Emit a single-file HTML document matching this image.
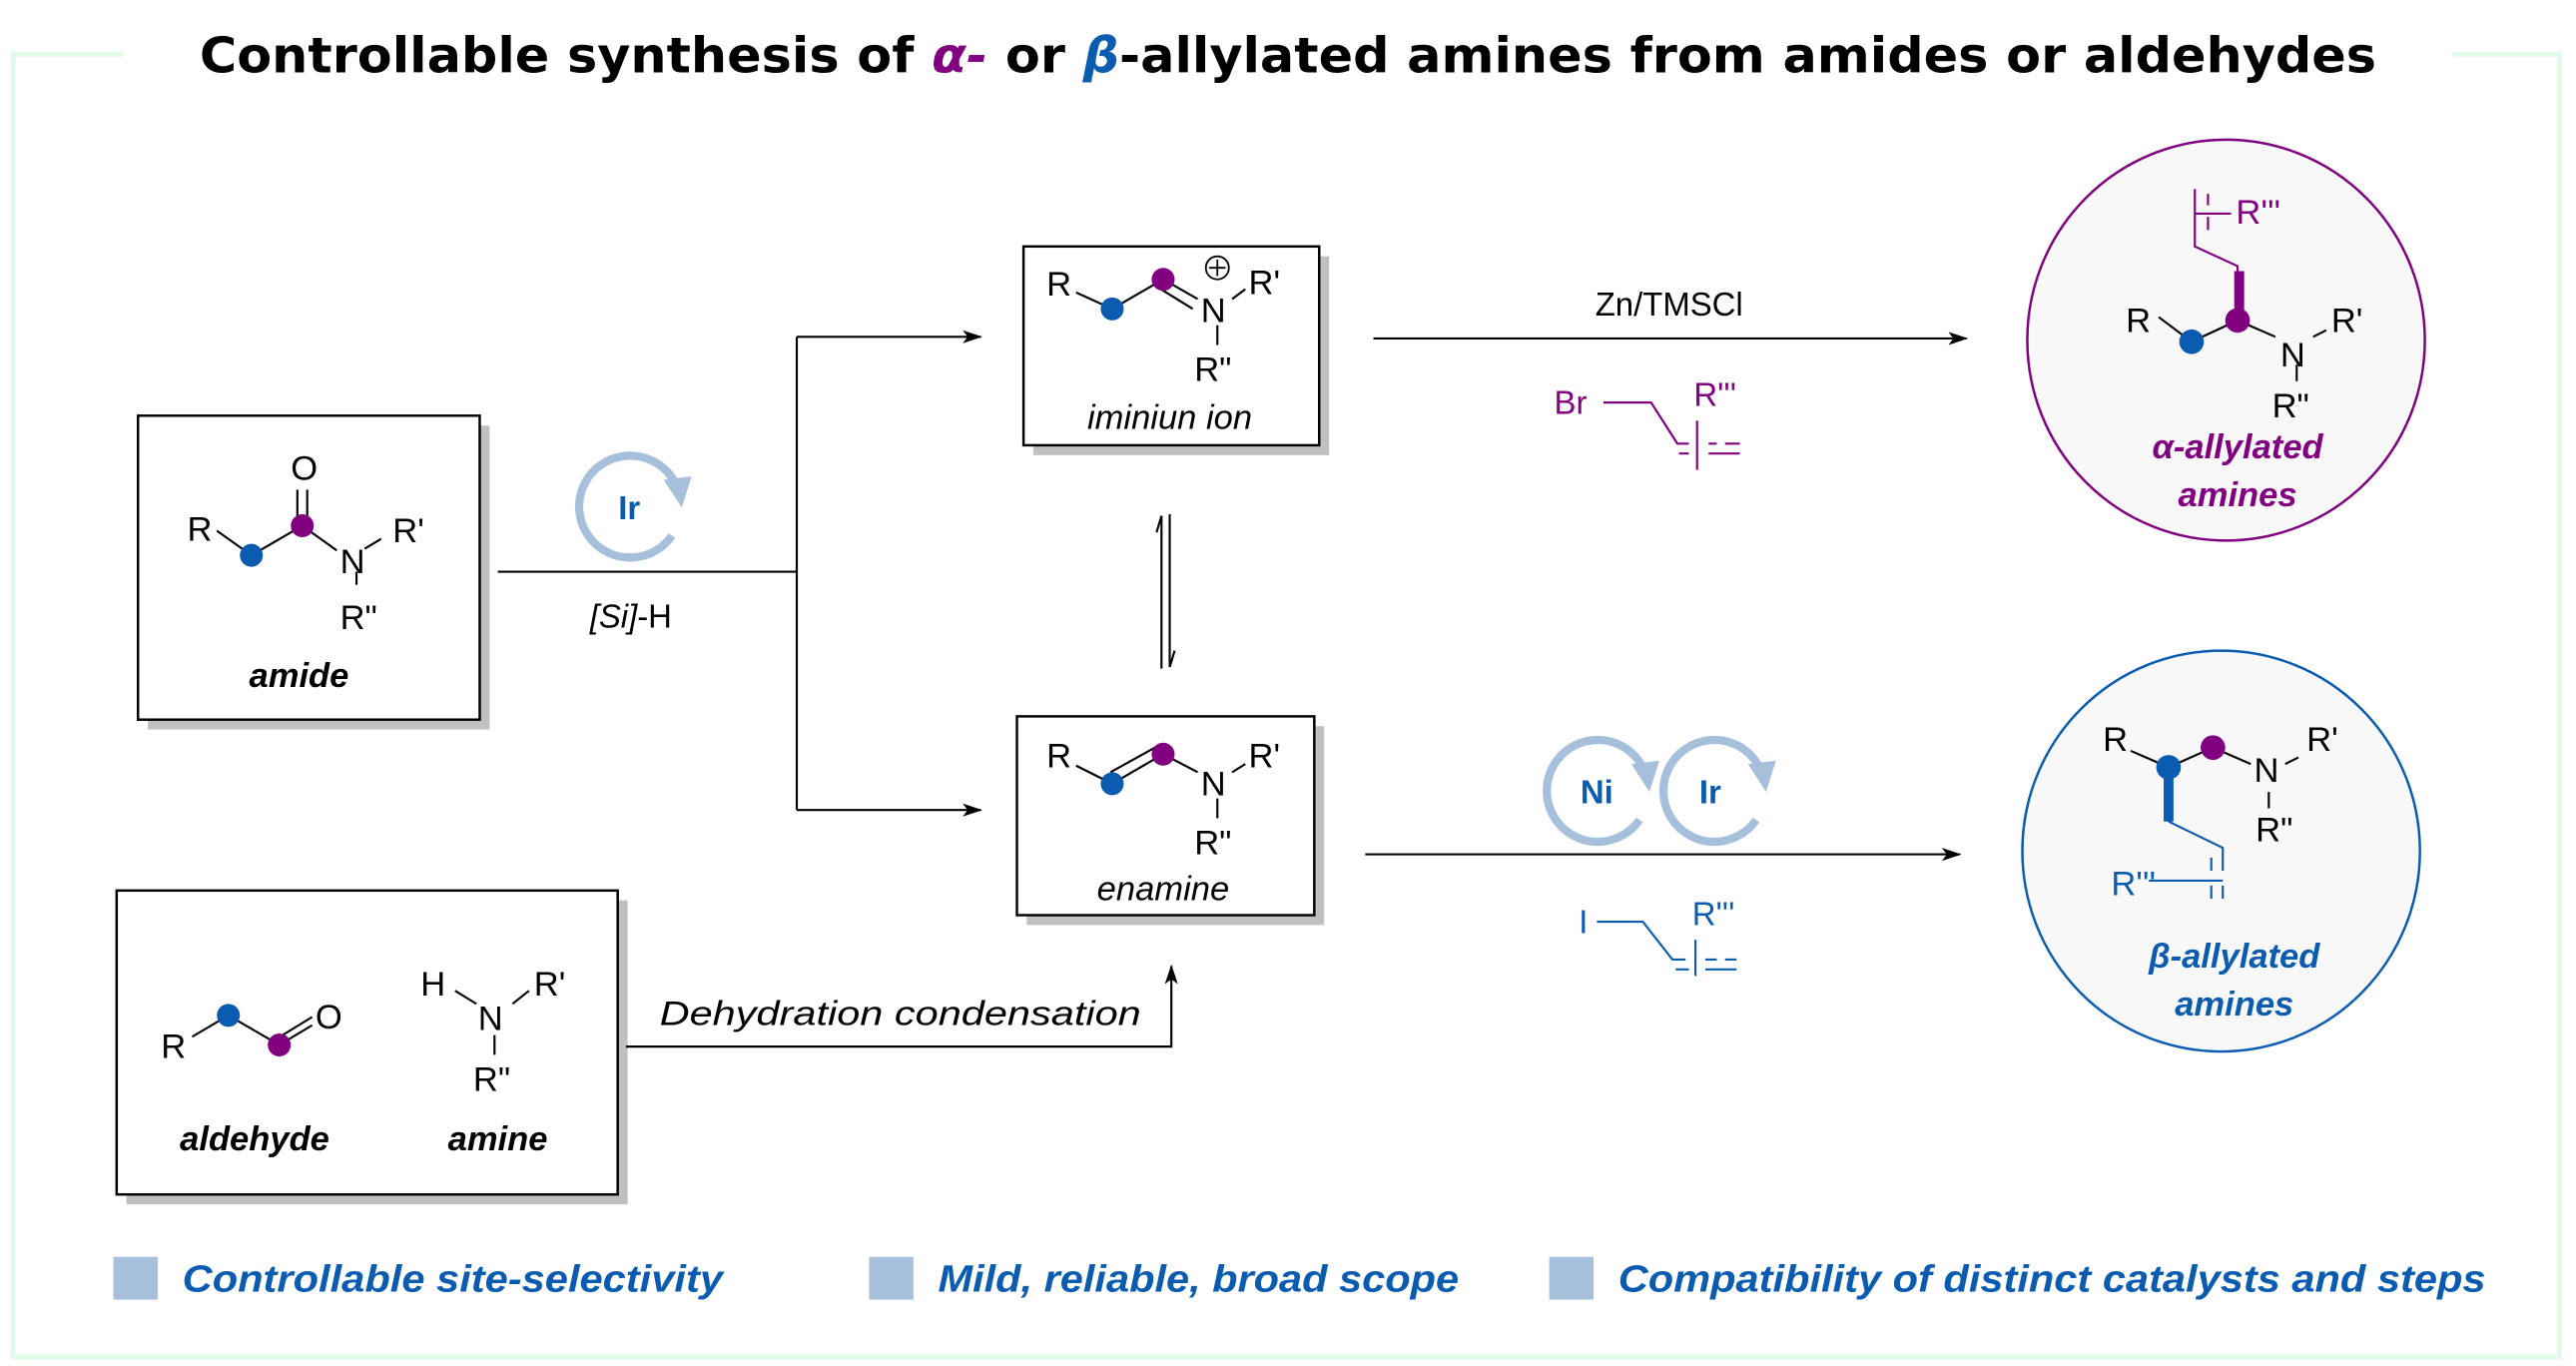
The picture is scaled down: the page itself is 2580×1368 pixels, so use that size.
<!DOCTYPE html>
<html><head><meta charset="utf-8"><style>
html,body{margin:0;padding:0;background:#fff}
svg{display:block}
text{font-family:"Liberation Sans",Arial,sans-serif}
</style></head><body>
<svg width="2580" height="1368" viewBox="0 0 1568 831.4" preserveAspectRatio="none" xmlns="http://www.w3.org/2000/svg">
<defs>
<marker id="ah" markerWidth="12" markerHeight="8" refX="11" refY="4" orient="auto" markerUnits="userSpaceOnUse"><path d="M0,0 L12,4 L0,8 L3,4 Z" fill="#000"/></marker>
</defs>
<path d="M75,33 H8 V826 H1558 V33 H1493" fill="none" stroke="#e0fbe8" stroke-width="3"/>
<text x="784" y="44" text-anchor="middle" font-size="30" font-weight="bold" style="font-family:'DejaVu Sans',sans-serif" textLength="1325" lengthAdjust="spacingAndGlyphs">Controllable synthesis of <tspan fill="#80007f" font-style="italic">α-</tspan> or <tspan fill="#0b5cb0" font-style="italic">β</tspan>-allylated amines from amides or aldehydes</text>

<g stroke="#000" stroke-width="1.5">
<rect x="90" y="259" width="208" height="185" fill="#c0c0c0" stroke="none"/>
<rect x="84" y="253" width="208" height="185" fill="#fff"/>
<rect x="629" y="156" width="180" height="121" fill="#c0c0c0" stroke="none"/>
<rect x="623" y="150" width="180" height="121" fill="#fff"/>
<rect x="625" y="442" width="181" height="121" fill="#c0c0c0" stroke="none"/>
<rect x="619" y="436" width="181" height="121" fill="#fff"/>
<rect x="77" y="548" width="305" height="185" fill="#c0c0c0" stroke="none"/>
<rect x="71" y="542" width="305" height="185" fill="#fff"/>
</g>

<g stroke="#000" stroke-width="1.3" fill="none">
<path d="M303,348 H485"/>
<path d="M485,205 V493"/>
<path d="M485,205 H597" marker-end="url(#ah)"/>
<path d="M485,493 H597" marker-end="url(#ah)"/>
<path d="M707,407 V314" /><path d="M707,314 L704,324" />
<path d="M712,313 V406"/><path d="M712,406 L715,396"/>
<path d="M381,637 H713 V588" marker-end="url(#ah)"/>
<path d="M836,206 H1197" marker-end="url(#ah)"/>
<path d="M831,520 H1193" marker-end="url(#ah)"/>
</g>

<g fill="none" stroke="#a6bfdb" stroke-width="5">
<path d="M409,326 A31,31 0 1 1 411,294"/>
<path d="M998,499 A31,31 0 1 1 1000,467"/>
<path d="M1069,499 A31,31 0 1 1 1071,467"/>
</g>
<g fill="#a6bfdb">
<path d="M404,292 L421,290 L415,309 Z"/>
<path d="M993,465 L1010,463 L1004,482 Z"/>
<path d="M1064,465 L1081,463 L1075,482 Z"/>
</g>
<text x="383" y="316" font-size="20" font-weight="bold" fill="#0b5cb0" text-anchor="middle">Ir</text>
<text x="972" y="489" font-size="20" font-weight="bold" fill="#0b5cb0" text-anchor="middle">Ni</text>
<text x="1041" y="489" font-size="20" font-weight="bold" fill="#0b5cb0" text-anchor="middle">Ir</text>
<text x="384" y="382" font-size="20" text-anchor="middle"><tspan font-style="italic">[Si]</tspan>-H</text>

<text x="1016" y="192" font-size="20" text-anchor="middle">Zn/TMSCl</text>
<g stroke="#80007f" stroke-width="1.3" fill="none">
<path d="M976,245 H1005 L1021,270 H1028 M1040,270 H1045 M1033,256 V286 M1022,276 H1028 M1040,276 H1059 M1050,270 H1059"/>
</g>
<text x="946" y="252" font-size="20" fill="#80007f">Br</text>
<text x="1031" y="247" font-size="20" fill="#80007f">R'''</text>
<g stroke="#0b5cb0" stroke-width="1.3" fill="none">
<path d="M972,561 H1000 L1018,584 H1026 M1038,584 H1045 M1032,572 V594 M1020,590 H1028 M1038,590 H1057 M1050,584 H1057"/>
</g>
<text x="961" y="568" font-size="20" fill="#0b5cb0">I</text>
<text x="1030" y="563" font-size="20" fill="#0b5cb0">R'''</text>

<text x="548" y="624" font-size="21" font-style="italic" text-anchor="middle" textLength="293" lengthAdjust="spacingAndGlyphs">Dehydration condensation</text>

<g stroke="#000" stroke-width="1.3" fill="none">
<path d="M132,323 L153,338 L184,320 L205,335 M181,298 V318 M187,298 V318 M217,348 V356 M222,334 L232,328"/>
</g>
<circle cx="153" cy="338" r="7" fill="#0b5cb0"/><circle cx="184" cy="320" r="7" fill="#80007f"/>
<g font-size="21"><text x="114" y="329">R</text><text x="177" y="292">O</text><text x="207" y="349">N</text><text x="239" y="330">R'</text><text x="207" y="383">R"</text></g>
<text x="182" y="418" font-size="21" font-weight="bold" font-style="italic" text-anchor="middle">amide</text>

<g stroke="#000" stroke-width="1.3" fill="none"><path d="M655,178 L677,188 L708,170 L729,182 M705,175 L726,188 M750,182 L758,176 M741,198 V210"/></g>
<circle cx="677" cy="188" r="7" fill="#0b5cb0"/><circle cx="708" cy="170" r="7" fill="#80007f"/>
<circle cx="741" cy="163" r="7" fill="none" stroke="#000" stroke-width="1.1"/><path d="M741,158 V168 M736,163 H746" stroke="#000" stroke-width="1.1"/>
<g font-size="21"><text x="637" y="180">R</text><text x="731" y="196">N</text><text x="760" y="179">R'</text><text x="727" y="232">R"</text></g>
<text x="712" y="261" font-size="21" font-style="italic" text-anchor="middle">iminiun ion</text>

<g stroke="#000" stroke-width="1.3" fill="none"><path d="M655,466 L677,477 L708,459 L729,470 M676,470 L703,455 M750,470 L758,465 M741,486 V498"/></g>
<circle cx="677" cy="477" r="7" fill="#0b5cb0"/><circle cx="708" cy="459" r="7" fill="#80007f"/>
<g font-size="21"><text x="637" y="467">R</text><text x="731" y="484">N</text><text x="760" y="467">R'</text><text x="727" y="520">R"</text></g>
<text x="708" y="548" font-size="21" font-style="italic" text-anchor="middle">enamine</text>

<g stroke="#000" stroke-width="1.3" fill="none"><path d="M117,631 L139,618 L170,636 L190,624 M172,630 L190,619 M277,603 L290,611 M312,611 L322,603 M301,630 V642"/></g>
<circle cx="139" cy="618" r="7" fill="#0b5cb0"/><circle cx="170" cy="636" r="7" fill="#80007f"/>
<g font-size="21"><text x="98" y="644">R</text><text x="192" y="626">O</text><text x="256" y="606">H</text><text x="291" y="627">N</text><text x="325" y="606">R'</text><text x="288" y="664">R"</text></g>
<text x="155" y="700" font-size="21" font-weight="bold" font-style="italic" text-anchor="middle">aldehyde</text>
<text x="303" y="700" font-size="21" font-weight="bold" font-style="italic" text-anchor="middle">amine</text>

<ellipse cx="1355" cy="207" rx="121" ry="122" fill="#f8f8f8" stroke="#80007f" stroke-width="1.5"/>
<g stroke="#000" stroke-width="1.3" fill="none"><path d="M1314,193 L1334,208 L1362,195 L1385,205 M1408,205 L1416,201 M1398,222 V232"/></g>
<g stroke="#80007f" stroke-width="1.3" fill="none"><path d="M1362,195 V162 L1336,150 V115 M1344,118 V125 M1344,132 V140 M1336,130 H1358"/></g>
<path d="M1360,165 H1366 V192 H1360 Z" fill="#80007f"/>
<circle cx="1334" cy="208" r="7.5" fill="#0b5cb0"/><circle cx="1362" cy="195" r="7.5" fill="#80007f"/>
<g font-size="21"><text x="1294" y="202">R</text><text x="1388" y="223">N</text><text x="1419" y="202">R'</text><text x="1383" y="254">R"</text></g>
<text x="1361" y="136" font-size="21" fill="#80007f">R'''</text>
<text x="1362" y="279" font-size="21" font-weight="bold" font-style="italic" fill="#80007f" text-anchor="middle">α-allylated</text>
<text x="1362" y="308" font-size="21" font-weight="bold" font-style="italic" fill="#80007f" text-anchor="middle">amines</text>

<ellipse cx="1352" cy="518" rx="121" ry="122" fill="#f8f8f8" stroke="#0b5cb0" stroke-width="1.5"/>
<g stroke="#000" stroke-width="1.3" fill="none"><path d="M1297,457 L1320,467 L1347,455 L1370,465 M1391,465 L1399,461 M1381,482 V492"/></g>
<g stroke="#0b5cb0" stroke-width="1.3" fill="none"><path d="M1320,500 L1353,516 V530 M1346,522 V530 M1346,539 V547 M1353,539 V547 M1308,536 H1353"/></g>
<path d="M1317,472 H1323 V500 H1317 Z" fill="#0b5cb0"/>
<circle cx="1320" cy="467" r="7.5" fill="#0b5cb0"/><circle cx="1347" cy="455" r="7.5" fill="#80007f"/>
<g font-size="21"><text x="1280" y="457">R</text><text x="1372" y="476">N</text><text x="1404" y="457">R'</text><text x="1373" y="512">R"</text></g>
<text x="1285" y="545" font-size="21" fill="#0b5cb0">R'''</text>
<text x="1360" y="589" font-size="21" font-weight="bold" font-style="italic" fill="#0b5cb0" text-anchor="middle">β-allylated</text>
<text x="1360" y="618" font-size="21" font-weight="bold" font-style="italic" fill="#0b5cb0" text-anchor="middle">amines</text>

<g fill="#a6bfdb"><rect x="69" y="765" width="27" height="26"/><rect x="529" y="765" width="27" height="26"/><rect x="943" y="765" width="27" height="26"/></g>
<g font-size="23" font-weight="bold" font-style="italic" fill="#0b5cb0">
<text x="111" y="786" textLength="329" lengthAdjust="spacingAndGlyphs">Controllable site-selectivity</text>
<text x="571" y="786" textLength="317" lengthAdjust="spacingAndGlyphs">Mild, reliable, broad scope</text>
<text x="985" y="786" textLength="528" lengthAdjust="spacingAndGlyphs">Compatibility of distinct catalysts and steps</text>
</g>
</svg>
</body></html>
